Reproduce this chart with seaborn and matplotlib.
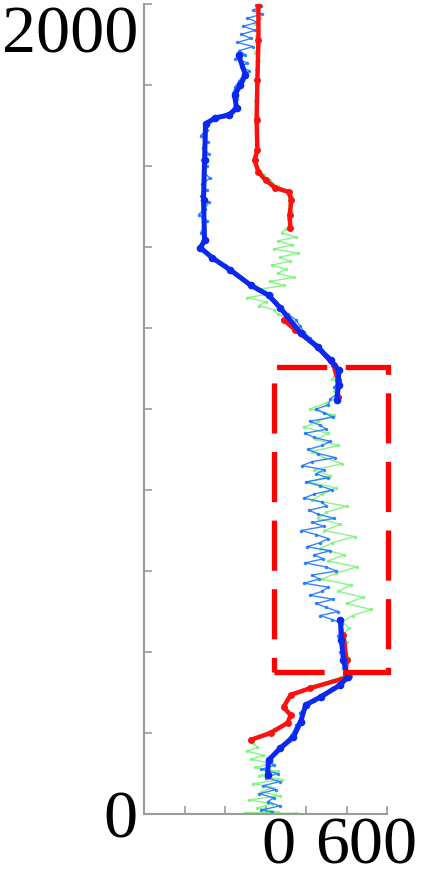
import pandas as pd
import matplotlib
matplotlib.use("Agg")
import matplotlib.pyplot as plt
import seaborn as sns
from matplotlib.patches import Rectangle

sns.set_theme(style="white")
plt.rcParams['font.family'] = ['Liberation Serif', 'DejaVu Serif']

# ---- datos (x horizontal, y vertical) ----
# trayectoria azul (puntos gruesos), dos tramos
blue_a_x = [-133, -99, -124, -153, -143, -178, -247, -296, -301, -306, -301, -321,
            -262, -173, -74, 15, 74, 173, 257, 321, 361, 361, 351]
blue_a_y = [1874, 1825, 1800, 1775, 1743, 1726, 1719, 1704, 1615, 1516, 1417, 1398,
            1373, 1343, 1306, 1281, 1249, 1188, 1153, 1121, 1096, 1059, 1022]
blue_b_x = [370, 375, 385, 405, 370, 272, 198, 173, 138, 74, 15, 10]
blue_b_y = [479, 430, 380, 338, 319, 289, 269, 227, 190, 163, 133, 96]

# trayectoria roja (puntos gruesos), tres tramos
red_a_x = [-35, -35, -40, -44, -40, -54, -35, 0, 49, 114, 128, 119, 123]
red_a_y = [1997, 1911, 1812, 1714, 1639, 1615, 1585, 1565, 1546, 1536, 1516, 1479, 1447]
red_b_x = [89, 148, 257, 336, 356, 356]
red_b_y = [1220, 1195, 1153, 1109, 1072, 1030]
red_c_x = [385, 400, 395, 222, 124, 89, 124, 109, 25, -74]
red_c_y = [442, 380, 336, 311, 294, 264, 244, 225, 200, 183]

# medidas con ruido (azul claro)
lblue_x = [-20, -60, -15, -90, -40, -110, -50, -120, -70, -140, -60, -130, -100, -150,
           -90, -120, -80, -110, -130, -150, -160, -140, -150, -170, -240, -290, -300,
           -290, -320, -285, -310, -280, -315, -290, -305, -275, -315, -290, -320, -280,
           -300, -330, -290, -305, -320, -295, -320,
           -300, -250, -200, -170, -120, -80, -30, 10, 50, 70, 110, 150, 170, 190, 220,
           250, 280, 310, 330, 360, 350, 370, 340, 360, 320,
           310, 250, 290, 335, 220, 270, 300, 195, 240, 320,
           280, 210, 260, 345, 230, 180, 290, 250, 310, 200,
           270, 330, 240, 190, 280, 300, 215, 260, 340, 230,
           290, 175, 250, 310, 270, 205, 320, 240, 285, 195,
           300, 350, 230, 265, 190, 310, 280, 220, 335, 250,
           300, 360, 270, 330, 380,
           380, 360, 395, 370, 400, 385, 420, 380, 330, 280, 240, 200, 170, 180, 150,
           140, 120, 90, 60, 30, 20,
           40, -20, 60, 0, 70, -10, 50, -30, 40, 10, 70, -20, 30]
lblue_y = [1995, 1985, 1975, 1965, 1955, 1945, 1935, 1925, 1915, 1905, 1895, 1885, 1875,
           1865, 1855, 1845, 1835, 1825, 1810, 1795, 1780, 1765, 1750, 1735, 1720, 1710,
           1700,
           1690, 1675, 1660, 1645, 1630, 1615, 1600, 1585, 1570, 1555, 1540, 1525, 1510,
           1495, 1480, 1465, 1450, 1435, 1420, 1405,
           1390, 1370, 1355, 1340, 1325, 1310, 1295, 1280, 1265, 1250, 1235, 1220, 1205,
           1190, 1175, 1160, 1145, 1130, 1115, 1100, 1085, 1070, 1055, 1040, 1025,
           1010, 1000, 990, 980, 970, 960, 950, 940, 930, 920, 910, 900, 890, 880, 870,
           860, 850, 840, 830, 820, 810, 800, 790, 780, 770, 760, 750, 740, 730, 720,
           710, 700, 690, 680, 670, 660, 650, 640, 630, 620, 610, 600, 590, 580, 570,
           560, 550, 540, 530, 520, 510, 500, 490, 480, 470,
           455, 440, 420, 400, 380, 360, 340, 325, 310, 295, 280, 265, 250, 235, 220,
           205, 190, 175, 160, 145, 130,
           120, 110, 100, 90, 80, 70, 60, 50, 40, 30, 20, 10, 5]

# medidas con ruido (verde claro)
lgreen_x = [-20, -45, -25, -50, -30, -45, -35, -50, -30, -45, -40, -50, -35, -45, -40,
            -55, -40, -10, 20, 60, 110, 130, 115, 130, 110, 120, 100,
            80, 150, 60, 130, 40, 160, 70, 120, 30, 100, 60, 140, 20, 90, -40, 30, -90,
            0, -30, 40, 60, 100,
            120, 160, 200, 240, 260, 300, 320, 340, 350, 330, 370, 340, 360,
            300, 220, 340, 260, 190, 310, 250, 360, 230, 290,
            380, 240, 320, 210, 350, 280, 230, 400, 300, 260,
            370, 290, 440, 330, 270, 390, 310, 450, 350, 280,
            420, 360, 480, 400, 520, 430, 380, 410,
            390, 400, 390, 410, 395, 400, 330, 230, 140, 110, 90, 110, 120, 100, 40, -20,
            -70, -60,
            -40, -90, -10, -70, 30, -50, 60, -30, 80, -60, 40, -20, 70, -80, 30, -40, 60,
            -100, 150]
lgreen_y = [1995, 1980, 1965, 1950, 1935, 1920, 1900, 1880, 1860, 1840, 1800, 1760, 1720,
            1690, 1660, 1620, 1600, 1580, 1565, 1550, 1540, 1525, 1505, 1490, 1470, 1455,
            1445,
            1435, 1425, 1415, 1405, 1395, 1385, 1375, 1365, 1355, 1345, 1335, 1325, 1315,
            1305, 1295, 1285, 1275, 1265, 1255, 1245, 1235, 1225,
            1210, 1195, 1180, 1165, 1150, 1135, 1120, 1105, 1090, 1075, 1060, 1045, 1030,
            1015, 1000, 985, 970, 955, 940, 925, 910, 895, 880, 865, 850, 835, 820, 805,
            790, 775, 760, 745, 730, 715, 700, 685, 670, 655, 640, 625, 610, 595, 580,
            565, 550, 535, 520, 505, 490, 475, 460,
            445, 425, 405, 385, 365, 345, 330, 315, 300, 285, 270, 255, 240, 225, 210,
            195, 185, 175,
            165, 155, 145, 135, 125, 115, 105, 95, 85, 75, 65, 55, 45, 35, 25, 15, 5,
            2, 2]

# recuadro discontinuo: esquina inferior izquierda, ancho, alto
box_x0, box_y0, box_w, box_h = 40, 351, 567, 753


def segmentos(pares):
    filas = []
    for i, (xs, ys) in enumerate(pares):
        filas.append(pd.DataFrame({"x": xs, "y": ys, "seg": i}))
    return pd.concat(filas, ignore_index=True)


df_blue = segmentos([(blue_a_x, blue_a_y), (blue_b_x, blue_b_y)])
df_red = segmentos([(red_a_x, red_a_y), (red_b_x, red_b_y), (red_c_x, red_c_y)])
df_lblue = pd.DataFrame({"x": lblue_x, "y": lblue_y, "seg": 0})
df_lgreen = pd.DataFrame({"x": lgreen_x, "y": lgreen_y, "seg": 0})

fig = plt.figure(figsize=(4.24, 8.77), dpi=100)
ax = fig.add_axes([144 / 424, 63 / 877, 243 / 424, 810 / 877])

comun = dict(x="x", y="y", units="seg", estimator=None, sort=False, ax=ax, legend=False)
sns.lineplot(data=df_lgreen, color="#7df27d", lw=1.0, alpha=0.9,
             marker="o", markersize=2.5, markeredgewidth=0, **comun)
sns.lineplot(data=df_lblue, color="#1f78ff", lw=1.0, alpha=0.9,
             marker="o", markersize=2.5, markeredgewidth=0, **comun)
sns.lineplot(data=df_red, color="#ff1010", lw=3.2,
             marker="o", markersize=5, markeredgewidth=0, **comun)
sns.lineplot(data=df_blue, color="#0a28f0", lw=3.6,
             marker="o", markersize=5.5, markeredgewidth=0, **comun)

ax.add_patch(Rectangle((box_x0, box_y0), box_w, box_h, fill=False, edgecolor="#ff0000",
                       lw=3.8, linestyle=(0, (9.5, 3.5)), clip_on=False, zorder=5))

ax.set_xlim(-600, 600)
ax.set_ylim(0, 2000)
ax.set_xticks(range(-600, 601, 200))
ax.set_yticks(range(0, 2001, 200))
ax.set_xticklabels([])
ax.set_yticklabels([])
ax.set_xlabel("")
ax.set_ylabel("")
ax.tick_params(direction="in", length=6, width=1.2, color="#9a9a9a",
               bottom=True, left=True)
for lado in ["top", "right"]:
    ax.spines[lado].set_visible(False)
for lado in ["left", "bottom"]:
    ax.spines[lado].set_color("#9a9a9a")
    ax.spines[lado].set_linewidth(1.5)
ax.set_facecolor("white")

fs = 49
ax.text(-0.025, 1881, "2000", transform=ax.get_yaxis_transform(), ha="right",
        va="baseline", fontsize=fs, color="black")
ax.text(-0.025, -59, "0", transform=ax.get_yaxis_transform(), ha="right",
        va="baseline", fontsize=fs, color="black", clip_on=False)
ax.text(62, -0.061, "0", transform=ax.get_xaxis_transform(), ha="center",
        va="baseline", fontsize=fs, color="black")
ax.text(499, -0.061, "600", transform=ax.get_xaxis_transform(), ha="center",
        va="baseline", fontsize=fs, color="black")

fig.savefig("out.png", dpi=100)
